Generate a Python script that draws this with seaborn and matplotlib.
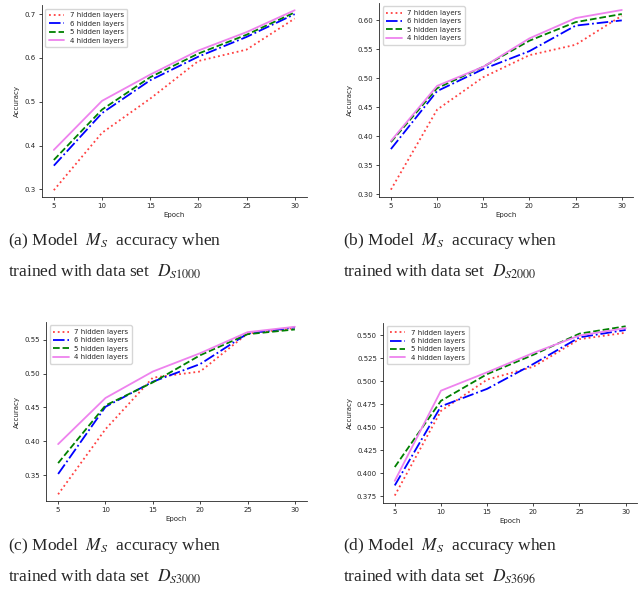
import numpy as np
import pandas as pd
import matplotlib
matplotlib.use('Agg')
import matplotlib.pyplot as plt
import seaborn as sns

sns.set_style('ticks')
plt.rcParams['font.family'] = ['DejaVu Sans']
plt.rcParams['mathtext.fontset'] = 'stix'

epochs = [5, 10, 15, 20, 25, 30]
series_names = ['7 hidden layers', '6 hidden layers', '5 hidden layers', '4 hidden layers']

# (a) data set D_S1000
acc_a_7 = [0.298, 0.429, 0.507, 0.593, 0.619, 0.690]
acc_a_6 = [0.354, 0.474, 0.549, 0.603, 0.648, 0.700]
acc_a_5 = [0.367, 0.482, 0.556, 0.610, 0.653, 0.704]
acc_a_4 = [0.390, 0.502, 0.562, 0.617, 0.659, 0.709]

# (b) data set D_S2000
acc_b_7 = [0.308, 0.446, 0.502, 0.540, 0.558, 0.608]
acc_b_6 = [0.378, 0.478, 0.516, 0.547, 0.591, 0.600]
acc_b_5 = [0.390, 0.483, 0.520, 0.565, 0.597, 0.611]
acc_b_4 = [0.392, 0.487, 0.520, 0.569, 0.604, 0.618]

# (c) data set D_S3000
acc_c_7 = [0.322, 0.418, 0.494, 0.503, 0.559, 0.567]
acc_c_6 = [0.352, 0.451, 0.488, 0.514, 0.559, 0.568]
acc_c_5 = [0.368, 0.453, 0.487, 0.527, 0.558, 0.565]
acc_c_4 = [0.396, 0.464, 0.503, 0.530, 0.561, 0.569]

# (d) data set D_S3696
acc_d_7 = [0.376, 0.468, 0.502, 0.516, 0.546, 0.553]
acc_d_6 = [0.387, 0.473, 0.492, 0.519, 0.548, 0.556]
acc_d_5 = [0.407, 0.479, 0.508, 0.529, 0.552, 0.560]
acc_d_4 = [0.392, 0.490, 0.510, 0.531, 0.550, 0.558]

yticks_a = [0.3, 0.4, 0.5, 0.6, 0.7]
yticks_b = [0.30, 0.35, 0.40, 0.45, 0.50, 0.55, 0.60]
yticks_c = [0.35, 0.40, 0.45, 0.50, 0.55]
yticks_d = [0.375, 0.400, 0.425, 0.450, 0.475, 0.500, 0.525, 0.550]

captions = [
    ('(a) Model  $M_S$  accuracy when', 'trained with data set  $D_{S1000}$'),
    ('(b) Model  $M_S$  accuracy when', 'trained with data set  $D_{S2000}$'),
    ('(c) Model  $M_S$  accuracy when', 'trained with data set  $D_{S3000}$'),
    ('(d) Model  $M_S$  accuracy when', 'trained with data set  $D_{S3696}$'),
]

colors = ['#ff4040', 'blue', 'green', 'violet']
styles = [':', '-.', '--', '-']

panels = [
    ([acc_a_7, acc_a_6, acc_a_5, acc_a_4], yticks_a, '%.1f', [0.065, 0.673, 0.412, 0.318], (0.282, 0.72)),
    ([acc_b_7, acc_b_6, acc_b_5, acc_b_4], yticks_b, '%.2f', [0.590, 0.673, 0.395, 0.322], (0.295, 0.63)),
    ([acc_c_7, acc_c_6, acc_c_5, acc_c_4], yticks_c, '%.2f', [0.072, 0.169, 0.405, 0.297], (0.312, 0.576)),
    ([acc_d_7, acc_d_6, acc_d_5, acc_d_4], yticks_d, '%.3f', [0.596, 0.166, 0.395, 0.299], (0.368, 0.564)),
]

fig = plt.figure(figsize=(6.43, 6.03), dpi=100)

for i, (vals, yt, fmt, rect, ylim) in enumerate(panels):
    ax = fig.add_axes(rect)
    for name, v, c, ls in zip(series_names, vals, colors, styles):
        df = pd.DataFrame({'Epoch': epochs, 'Accuracy': v})
        sns.lineplot(data=df, x='Epoch', y='Accuracy', ax=ax, color=c,
                     linestyle=ls, linewidth=1.3, label=name)
    ax.set_xticks(epochs)
    ax.set_yticks(yt)
    ax.set_yticklabels([fmt % t for t in yt])
    ax.set_ylim(*ylim)
    ax.tick_params(labelsize=5, length=2.5, width=0.6, pad=2)
    ax.set_xlabel('Epoch', fontsize=5, labelpad=2)
    ax.set_ylabel('Accuracy', fontsize=5, labelpad=3)
    for s in ax.spines.values():
        s.set_linewidth(0.6)
    sns.despine(ax=ax)
    ax.legend(loc='upper left', fontsize=5, frameon=True, handlelength=2.2,
              borderpad=0.5, labelspacing=0.35, edgecolor='#cccccc', fancybox=True)

cap_pos = [(0.012, 0.600, 0.550), (0.534, 0.600, 0.550),
           (0.012, 0.095, 0.043), (0.534, 0.095, 0.043)]
for (l1, l2), (x, y1, y2) in zip(captions, cap_pos):
    fig.text(x, y1, l1, fontsize=12.5, family='Liberation Serif', va='center')
    fig.text(x, y2, l2, fontsize=12.5, family='Liberation Serif', va='center')

fig.savefig('out.png', dpi=100)
